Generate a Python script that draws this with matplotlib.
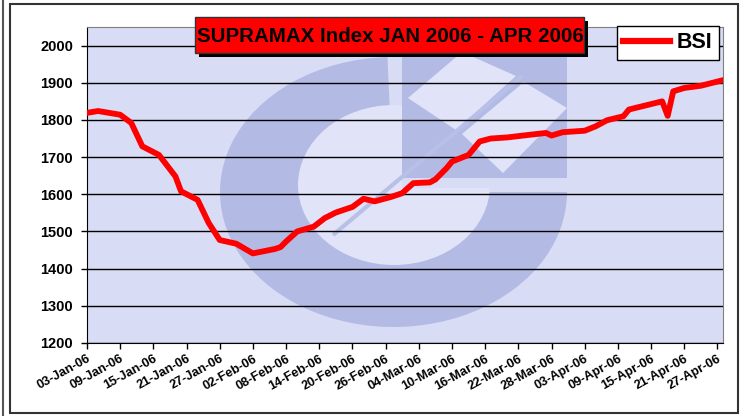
import matplotlib
matplotlib.use("Agg")
import matplotlib.pyplot as plt
import matplotlib.dates as mdates
import matplotlib.patches as mpatches
import matplotlib.transforms as mtransforms
import pandas as pd

# BSI corner points
dates = ["2006-01-03", "2006-01-05", "2006-01-09", "2006-01-11", "2006-01-13",
         "2006-01-16", "2006-01-19", "2006-01-20", "2006-01-23", "2006-01-25",
         "2006-01-27", "2006-01-30", "2006-02-02", "2006-02-06", "2006-02-07",
         "2006-02-08", "2006-02-10", "2006-02-13", "2006-02-15", "2006-02-17",
         "2006-02-20", "2006-02-22", "2006-02-24", "2006-02-27", "2006-03-01",
         "2006-03-03", "2006-03-06", "2006-03-07", "2006-03-09", "2006-03-10",
         "2006-03-13", "2006-03-15", "2006-03-17", "2006-03-20", "2006-03-24",
         "2006-03-27", "2006-03-28", "2006-03-30", "2006-04-03", "2006-04-05",
         "2006-04-07", "2006-04-10", "2006-04-11", "2006-04-17", "2006-04-18",
         "2006-04-19", "2006-04-21", "2006-04-24", "2006-04-28"]
bsi = [1819, 1824, 1814, 1792, 1729,
       1706, 1648, 1608, 1585, 1523,
       1477, 1467, 1441, 1453, 1458,
       1473, 1500, 1513, 1536, 1551,
       1566, 1588, 1581, 1593, 1603,
       1630, 1632, 1640, 1670, 1688,
       1706, 1742, 1750, 1753, 1760,
       1765, 1758, 1767, 1771, 1783,
       1799, 1810, 1828, 1850, 1811,
       1877, 1886, 1892, 1907]

y_ticks = [1200, 1300, 1400, 1500, 1600, 1700, 1800, 1900, 2000]
tick_dates = pd.date_range("2006-01-03", "2006-04-27", freq="6D")
title = "SUPRAMAX Index JAN 2006 - APR 2006"

plt.rcParams["font.family"] = ["Liberation Sans", "DejaVu Sans"]
plt.rcParams["font.weight"] = "bold"

W, H = 740, 416
fig = plt.figure(figsize=(W / 100, H / 100), dpi=100)

# plot area in pixels
x0, x1, y0, y1 = 87, 723, 27, 343

# background + watermark, drawn in pixel coordinates
bg = fig.add_axes([0, 0, 1, 1], zorder=0)
bg.set_xlim(0, W)
bg.set_ylim(H, 0)
bg.axis("off")

plot_bg = "#D9DCF5"
plot_rect = mpatches.Rectangle((x0, y0), x1 - x0, y1 - y0, facecolor=plot_bg, edgecolor="none")
bg.add_patch(plot_rect)

dark = "#B3BBE5"
light = "#E1E4F8"


def ellipse_tf(cx, cy, rx, ry):
    return mtransforms.Affine2D().scale(rx, -ry).translate(cx, cy) + bg.transData


ring = mpatches.Wedge((0, 0), 1, 92, 360, facecolor=dark, edgecolor="none",
                      transform=ellipse_tf(393.5, 192, 173.5, 135))
inner = mpatches.Ellipse((0, 0), 2, 2, facecolor=light, edgecolor="none",
                         transform=ellipse_tf(394, 185, 96, 80))
block = mpatches.Rectangle((402, 40), 165, 138, facecolor=dark, edgecolor="none")
gap = mpatches.Rectangle((402, 178), 165, 10, facecolor=plot_bg, edgecolor="none")
d1 = mpatches.Polygon([(408, 98), (462, 52), (516, 76), (456, 130)], facecolor=light, edgecolor="none")
d2 = mpatches.Polygon([(462, 134), (524, 82), (567, 108), (503, 173)], facecolor=light, edgecolor="none")
for p in [ring, inner, block, gap, d1, d2]:
    p.set_clip_path(plot_rect)
    bg.add_patch(p)
slash, = bg.plot([333, 522], [235, 76], color="#B8C0E8", lw=3, solid_capstyle="butt")
slash.set_clip_path(plot_rect)

# main chart
ax = fig.add_axes([x0 / W, 1 - y1 / H, (x1 - x0) / W, (y1 - y0) / H], zorder=1)
ax.set_facecolor("none")
ax.plot(pd.to_datetime(dates), bsi, color="#FF0000", lw=4.2, label="BSI",
        solid_joinstyle="round", zorder=3)

ax.set_ylim(1200, 2050)
ax.set_yticks(y_ticks)
ax.set_xlim(pd.Timestamp("2006-01-03"), pd.Timestamp("2006-04-28"))
ax.set_xticks(tick_dates)
ax.xaxis.set_major_formatter(mdates.DateFormatter("%d-%b-%y"))
ax.grid(axis="y", color="black", lw=1)
ax.set_axisbelow(True)
ax.tick_params(axis="y", labelsize=10.5, length=4, pad=6, width=1)
ax.tick_params(axis="x", labelsize=9.2, length=4, pad=3, width=1)
for lbl in ax.get_xticklabels():
    lbl.set_rotation(29)
    lbl.set_ha("right")
    lbl.set_rotation_mode("anchor")
for side in ["top", "right"]:
    ax.spines[side].set_color("#808080")
for side in ["left", "bottom"]:
    ax.spines[side].set_color("black")

leg = ax.legend(loc="upper right", bbox_to_anchor=(719 / W, 1 - 26 / H),
                bbox_transform=fig.transFigure, fontsize=15.5, frameon=True,
                fancybox=False, edgecolor="black", framealpha=1,
                handlelength=2.2, handletextpad=0.3, borderpad=0.3,
                borderaxespad=0)
leg.get_frame().set_linewidth(1)
leg.get_lines()[0].set_linewidth(4.5)

# overlay: title box and chart frame
top = fig.add_axes([0, 0, 1, 1], zorder=3)
top.set_xlim(0, W)
top.set_ylim(H, 0)
top.axis("off")
top.add_patch(mpatches.Rectangle((199, 21), 389, 36, facecolor="black", edgecolor="none"))
top.add_patch(mpatches.Rectangle((195, 17), 389, 36, facecolor="#FF0000", edgecolor="#333333", lw=1))
top.text(390, 36, title, ha="center", va="center", fontsize=14.8, fontweight="bold", color="black")
top.add_patch(mpatches.Rectangle((9.5, 3.5), 728.5, 409.5, facecolor="none", edgecolor="#333333", lw=1.5))
top.plot([2.5, 2.5], [0, 416], color="#555555", lw=1.5)

fig.savefig("out.png", dpi=100)
